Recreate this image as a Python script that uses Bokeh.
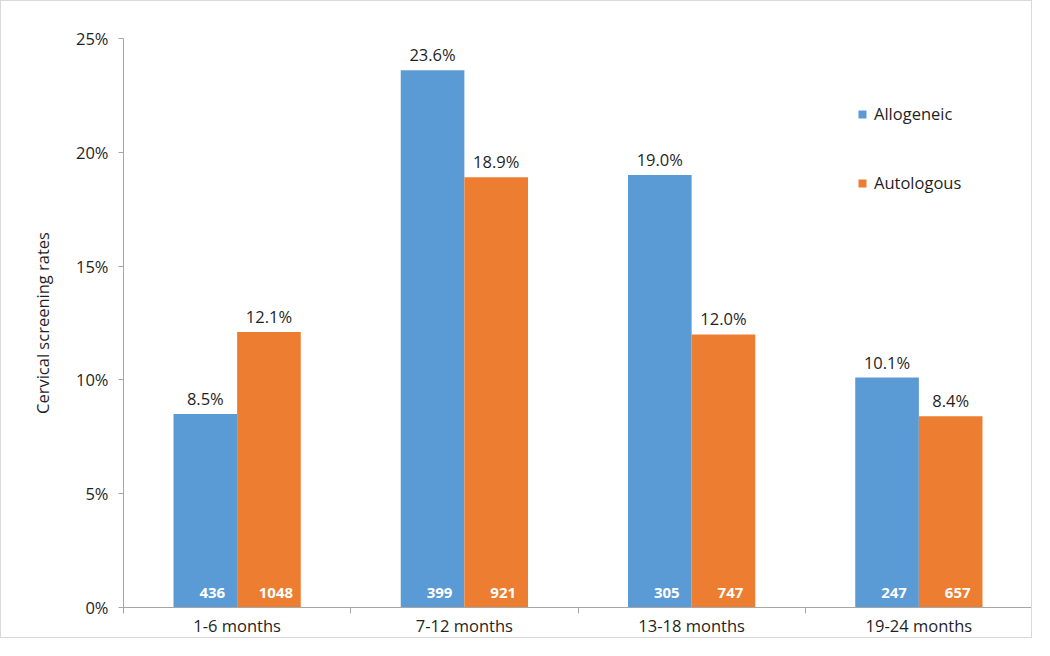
from bokeh.plotting import figure
from bokeh.models import ColumnDataSource, Range1d, FixedTicker, NumeralTickFormatter, Legend, LegendItem
from bokeh.core.properties import value
from bokeh.embed import file_html
from bokeh.resources import INLINE

categories = ["1-6 months", "7-12 months", "13-18 months", "19-24 months"]
allogeneic_pct = [8.5, 23.6, 19.0, 10.1]
autologous_pct = [12.1, 18.9, 12.0, 8.4]
allogeneic_n = [436, 399, 305, 247]
autologous_n = [1048, 921, 747, 657]
series_names = ["Allogeneic", "Autologous"]
y_ticks = [0, 0.05, 0.10, 0.15, 0.20, 0.25]

BLUE = "#5B9BD5"
ORANGE = "#ED7D31"
FONT = "Open Sans"
TXT = "#1F1F1F"
AXC = "#A6A6A6"

centers = [i + 0.5 for i in range(len(categories))]
bw = 0.28
off = 0.14

src_a = ColumnDataSource(dict(
    x=[c - off for c in centers],
    y=[v / 100 for v in allogeneic_pct],
    lab=[f"{v:.1f}%" for v in allogeneic_pct],
    n=[str(v) for v in allogeneic_n],
    zero=[0] * len(categories),
))
src_b = ColumnDataSource(dict(
    x=[c + off for c in centers],
    y=[v / 100 for v in autologous_pct],
    lab=[f"{v:.1f}%" for v in autologous_pct],
    n=[str(v) for v in autologous_n],
    zero=[0] * len(categories),
))

p = figure(width=1032, height=638, output_backend="svg", toolbar_location=None,
           x_range=Range1d(0, len(categories)), y_range=Range1d(0, 0.25),
           min_border_left=122, min_border_right=1, min_border_top=37, min_border_bottom=26)
p.outline_line_color = None
p.xgrid.grid_line_color = None
p.ygrid.grid_line_color = None
p.background_fill_color = "white"
p.border_fill_color = "white"

ra = p.vbar(x="x", top="y", width=bw, source=src_a, fill_color=BLUE, line_color=None)
rb = p.vbar(x="x", top="y", width=bw, source=src_b, fill_color=ORANGE, line_color=None)

for src in (src_a, src_b):
    p.text(x="x", y="y", text="lab", source=src, text_align="center", text_baseline="bottom",
           y_offset=-4, text_font=value(FONT), text_font_size="16.5px", text_color=TXT)
    p.text(x="x", y="zero", text="n", source=src, text_align="center", text_baseline="middle",
           x_offset=7, y_offset=-15, text_font=value(FONT), text_font_size="15px",
           text_font_style="bold", text_color="white")

# x axis
xa = p.xaxis[0]
xa.ticker = FixedTicker(ticks=centers, minor_ticks=list(range(len(categories) + 1)))
xa.major_label_overrides = {c: name for c, name in zip(centers, categories)}
xa.major_tick_line_color = None
xa.major_tick_out = 0
xa.major_tick_in = 0
xa.minor_tick_line_color = AXC
xa.minor_tick_out = 6
xa.minor_tick_in = 0
xa.axis_line_color = AXC
xa.major_label_standoff = 0
xa.major_label_text_font = FONT
xa.major_label_text_font_size = "16.5px"
xa.major_label_text_color = TXT

# y axis
ya = p.yaxis[0]
ya.ticker = FixedTicker(ticks=y_ticks)
ya.formatter = NumeralTickFormatter(format="0%")
ya.axis_line_color = AXC
ya.major_tick_line_color = AXC
ya.major_tick_out = 5
ya.major_tick_in = 0
ya.minor_tick_line_color = None
ya.major_label_standoff = 10
ya.major_label_text_font = FONT
ya.major_label_text_font_size = "16.5px"
ya.major_label_text_color = TXT
ya.axis_label = "Cervical screening rates"
ya.axis_label_text_font = FONT
ya.axis_label_text_font_size = "16.5px"
ya.axis_label_text_font_style = "normal"
ya.axis_label_text_color = TXT
ya.axis_label_standoff = 19

legend = Legend(items=[LegendItem(label=series_names[0], renderers=[ra]),
                       LegendItem(label=series_names[1], renderers=[rb])],
                location=(734, 413))
legend.glyph_width = 10
legend.glyph_height = 10
legend.label_standoff = 7
legend.spacing = 46
legend.padding = 0
legend.margin = 0
legend.border_line_color = None
legend.background_fill_alpha = 0
legend.label_text_font = FONT
legend.label_text_font_size = "16.5px"
legend.label_text_color = TXT
p.add_layout(legend)

p.styles = {"border": "1px solid #D9D9D9"}

open("out.html", "w").write(file_html(p, INLINE))
